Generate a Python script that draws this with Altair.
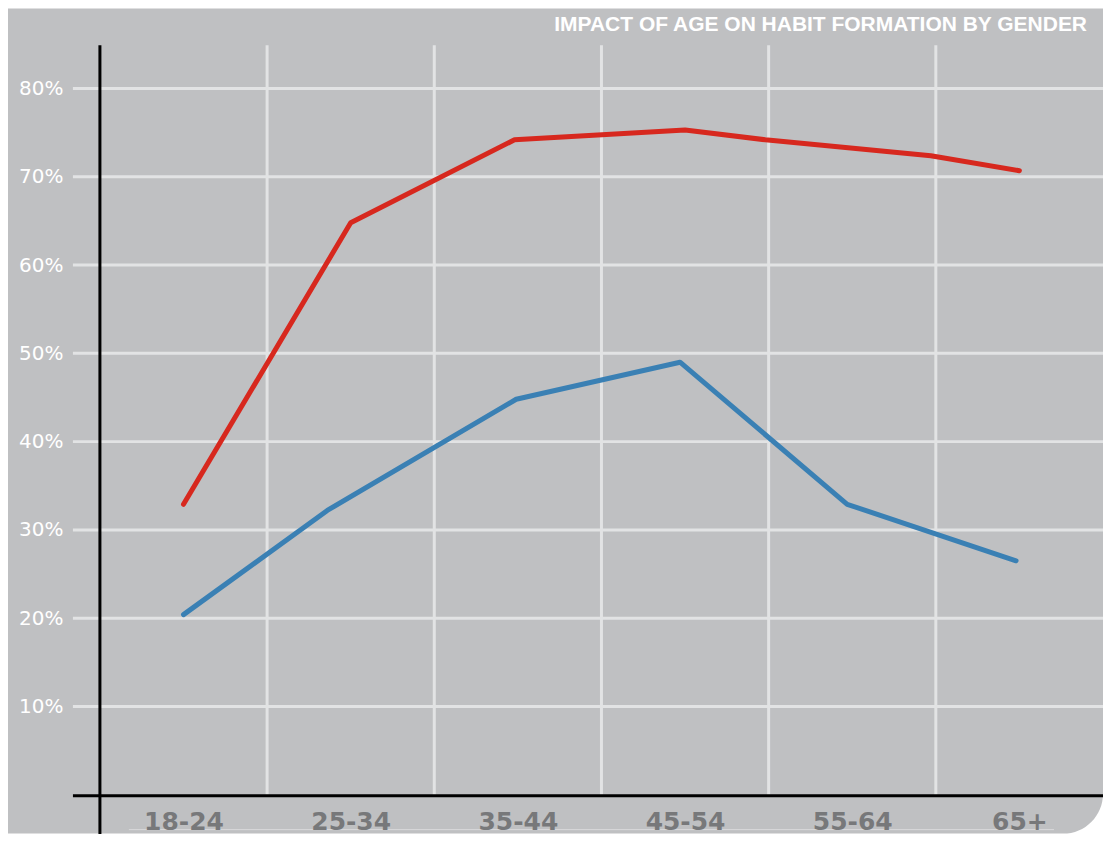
import json
import altair as alt
import pandas as pd

# ---- data -------------------------------------------------------------
categories = ["18-24", "25-34", "35-44", "45-54", "55-64", "65+"]
title_text = "IMPACT OF AGE ON HABIT FORMATION BY GENDER"

# x position expressed in age-group index units (0 = 18-24 ... 5 = 65+)
red_x = [0.0, 1.0, 1.98, 3.0, 3.48, 4.47, 5.0]
red_y = [0.329, 0.648, 0.742, 0.753, 0.742, 0.724, 0.707]
blue_x = [0.0, 0.86, 1.99, 2.97, 3.97, 4.98]
blue_y = [0.204, 0.322, 0.448, 0.490, 0.329, 0.265]

y_ticks = [0.1, 0.2, 0.3, 0.4, 0.5, 0.6, 0.7, 0.8]
boundaries = [i + 0.5 for i in range(len(categories) - 1)]

series = pd.DataFrame(
    [{"series": "red", "pos": x, "share": y} for x, y in zip(red_x, red_y)]
    + [{"series": "blue", "pos": x, "share": y} for x, y in zip(blue_x, blue_y)]
)
vgrid = pd.DataFrame({"pos": boundaries})
hgrid = pd.DataFrame({"share": y_ticks})

# ---- layout / style ----------------------------------------------------
W, H = 1004, 750
BG = "#bfc0c2"
GRID = "#e2e3e4"

x_scale = alt.Scale(domain=[-0.5, len(categories) - 0.5], nice=False, zero=False)
y_scale = alt.Scale(domain=[0, 0.849], nice=False, zero=False)

label_expr = json.dumps(categories) + "[datum.value]"

x_axis = alt.Axis(
    values=list(range(len(categories))),
    labelExpr=label_expr,
    labelFont="DejaVu Sans",
    labelFontWeight="bold",
    labelFontSize=25,
    labelColor="#77787a",
    labelPadding=15,
    labelFlush=False,
    labelOverlap=False,
    domain=False,
    ticks=False,
    tickSize=0,
    grid=False,
    title=None,
    zindex=1,
)
y_axis = alt.Axis(
    values=y_ticks,
    format=".0%",
    labelFont="DejaVu Sans",
    labelFontSize=20,
    labelColor="white",
    labelPadding=37,
    domain=False,
    ticks=False,
    tickSize=0,
    grid=False,
    title=None,
    zindex=1,
)

one = alt.Data(values=[{}])

card = alt.Chart(one).mark_rect(
    fill=BG, cornerRadiusBottomRight=40
).encode(
    x=alt.value(-92), x2=alt.value(W), y=alt.value(-37), y2=alt.value(H + 39)
)

v_lines = alt.Chart(vgrid).mark_rule(color=GRID, strokeWidth=3).encode(
    x=alt.X("pos:Q", scale=x_scale, axis=x_axis),
    y=alt.value(0),
    y2=alt.value(H),
)

h_lines = alt.Chart(hgrid).mark_rule(color=GRID, strokeWidth=3).encode(
    y=alt.Y("share:Q", scale=y_scale, axis=y_axis),
    x=alt.value(-27),
    x2=alt.value(W),
)

lines = alt.Chart(series).mark_line(
    strokeWidth=5, strokeCap="round", strokeJoin="round"
).encode(
    x=alt.X("pos:Q", scale=x_scale, axis=x_axis),
    y=alt.Y("share:Q", scale=y_scale, axis=y_axis),
    color=alt.Color(
        "series:N",
        scale=alt.Scale(domain=["red", "blue"], range=["#d7281e", "#3a80b4"]),
        legend=None,
    ),
    detail="series:N",
)

underline = alt.Chart(one).mark_rule(color="#d9dadc", strokeWidth=1).encode(
    x=alt.value(29), x2=alt.value(955), y=alt.value(H + 35)
)

y_axis_line = alt.Chart(one).mark_rule(color="black", strokeWidth=3).encode(
    x=alt.value(0), y=alt.value(0), y2=alt.value(H + 41)
)
x_axis_line = alt.Chart(one).mark_rule(color="black", strokeWidth=3).encode(
    x=alt.value(-27), x2=alt.value(W + 2), y=alt.value(H + 1)
)

title = alt.Chart(one).mark_text(
    text=title_text,
    align="right",
    baseline="alphabetic",
    font="Liberation Sans",
    fontWeight="bold",
    fontSize=21,
    color="white",
).encode(x=alt.value(W - 16), y=alt.value(-14))

chart = (
    alt.layer(card, v_lines, h_lines, lines, underline, y_axis_line, x_axis_line, title)
    .properties(
        width=W,
        height=H,
        autosize=alt.AutoSizeParams(type="none"),
        padding={"left": 92, "top": 37, "right": 0, "bottom": 39},
        background="white",
    )
    .configure_view(stroke=None)
)

chart.save("out.html", embed_options={"renderer": "svg", "actions": False})
